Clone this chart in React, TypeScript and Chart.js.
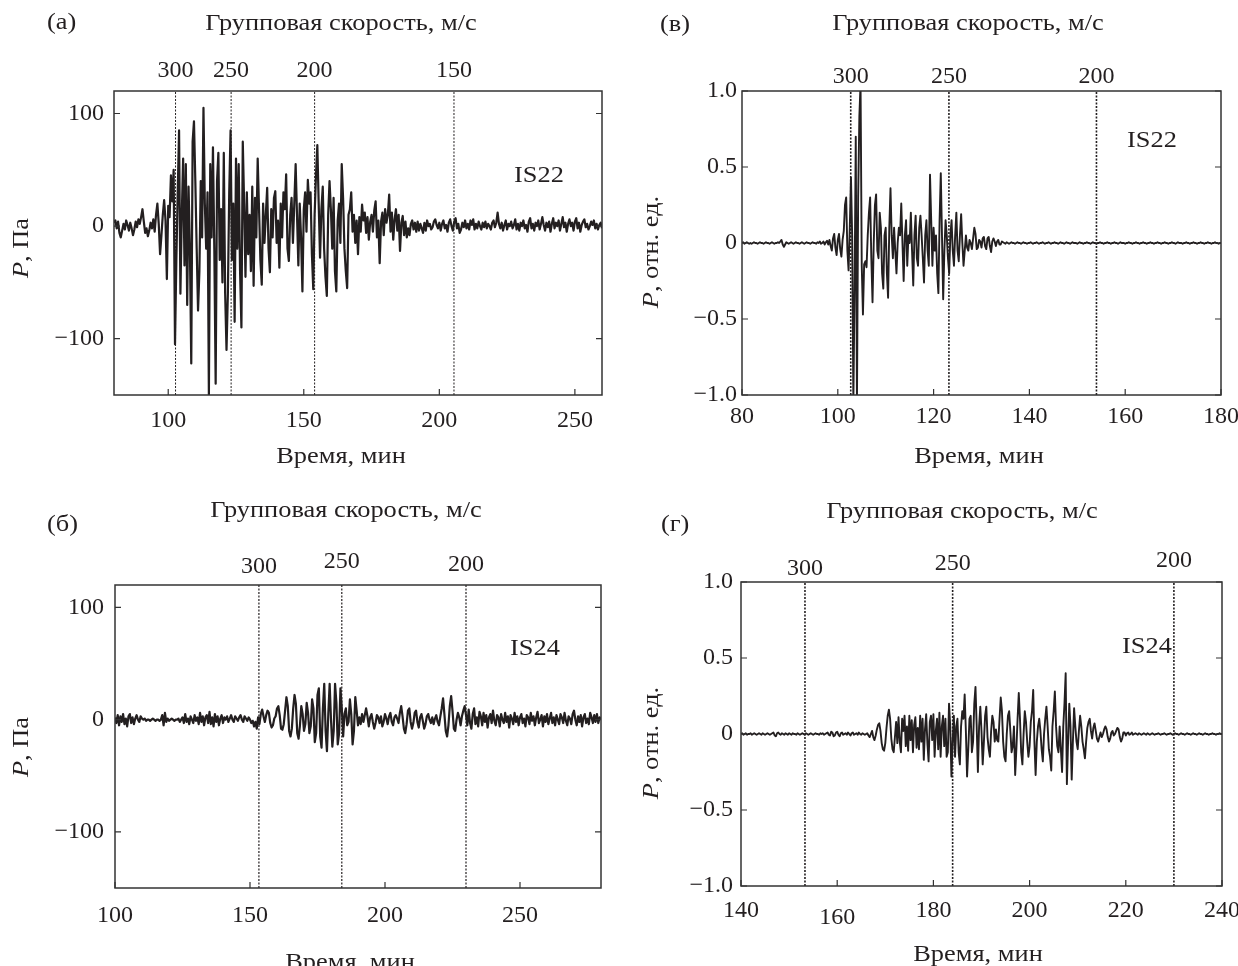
import React, { useEffect, useRef } from "react";
import { Chart, registerables } from "chart.js";

Chart.register(...registerables);

const SERIF = '"Liberation Serif", "Times New Roman", serif';
const INK = "#231f20";
const FRAME = "#333333";
const TEXT_SIZE = 24;
const TEXT_STRETCH = 1.1;

// IS22, pressure (Pa), one sample every 0.5 min starting at 80 min
const is22PressureStart = 80;
const is22PressureStep = 0.5;
const is22Pressure = [
  3, 5, -2, 4, -6, -10, -4, 2, -3, 5,
  1, -4, 3, -2, -8, -3, 4, -1, 6, 2,
  8, 15, 4, -6, -2, -9, -4, 3, -2, 6,
  -5, 10, 20, 2, -25, -8, 10, 23, 5, -47,
  18, 8, 45, 22, 50, -105, -30, 30, 85, -60,
  10, 60, -35, 55, -70, 35, -20, -122, 75, 93,
  40, -20, -75, -40, 40, -10, 105, 20, -20, 30,
  -150, 55, -10, 70, -20, -140, 40, 65, -30, 15,
  -50, 65, -60, -110, -60, 30, 85, -30, 20, -85,
  60, -20, 55, -40, -90, 75, 20, -45, 30, -25,
  10, -40, 35, -53, 25, -10, 60, 15, -30, -52,
  20, -15, 10, 34, -20, -41, 15, -10, 25, 31,
  -15, 5, -37, 20, -10, 30, 15, 46, -20, -31,
  10, 25, -15, 20, 55, 10, -35, 20, -10, -58,
  15, 30, -5, 41, 20, 30, -25, -56, 10, 45,
  72, 20, -28, 15, 35, -20, -45, -62, 10, 40,
  15, -20, 25, -40, -58, 5, 20, -15, 55, 25,
  -20, -40, -55, 10, 15, 30, -5, 10, -15, 5,
  -25, 8, -5, 19, 5, 12, -6, 8, -12, 4,
  10, -5, 14, 22, -10, 5, -33, 4, 12, -8,
  15, 3, 10, 28, -5, 12, -12, 6, 15, -4,
  10, -22, 3, 9, -8, 4, -10, -2, -8, 2,
  5, -3, 3, -5, 4, -4, 2, -2, -6, 3,
  -4, 5, 0, 2, -3, -1, 4, 6, 1, -2,
  3, -4, 2, 5, -2, 1, -5, 3, 6, 0,
  -4, 4, 7, -2, 2, -6, -3, 3, -1, 5,
  -2, 2, -3, 5, 1, 6, -3, 2, -2, 4,
  0, -3, 3, -1, 4, -2, 2, 0, -3, 3,
  5, -1, 3, 12, 2, -2, 3, -4, 1, 5,
  -3, 2, 0, 4, -2, 1, 6, -3, 2, -4,
  3, 0, 5, -2, 1, -5, 4, 7, -2, 2,
  -4, 3, 0, 5, -3, 2, 8, 1, -4, 3,
  -1, 4, -5, 2, 7, -2, 3, 0, 5, -4,
  2, 8, -1, 3, -5, 2, 6, 0, 3, -4,
  4, 7, -2, 3, -5, 1, 4, 6, -1, 2,
  -3, 0, 4, 1, 5, -2, 2, -3, 1, 3,
  -2,
];

// IS22, normalised pressure, one sample every 0.25 min starting at 80 min
const is22NormStart = 80;
const is22NormStep = 0.25;
const is22Normalized = [
  0, 0.005, -0.005, 0, 0.005, 0, -0.005, 0,
  -0.005, 0, 0.005, 0, 0, -0.005, 0, 0.005,
  0, 0, -0.005, 0, 0.005, 0, 0, -0.005,
  0, 0.005, 0, -0.005, 0, 0, 0.005, 0,
  0.01, 0.02, -0.01, -0.025, -0.01, 0.005, 0, -0.005,
  0, 0.005, 0, -0.005, 0, 0.005, 0, 0,
  -0.005, 0, 0.005, 0, -0.005, 0, 0.005, 0,
  0, -0.005, 0, 0.005, 0, 0, -0.005, 0.005,
  0, 0.01, -0.005, 0, 0.01, -0.01, 0.005, 0.015,
  -0.01, 0.02, -0.02, -0.05, 0.03, 0.06, -0.03, -0.08,
  0.02, 0.06, -0.04, -0.09, 0.02, 0.08, 0.25, 0.3,
  -0.05, -0.18, 0.1, 0.43, 0.05, -1.05, -0.3, 0.7,
  -1.05, 0.3, 0.83, 1.05, -0.15, -0.47, -0.14, -0.12,
  -0.16, 0.05, 0.2, 0.3, -0.1, -0.39, 0, 0.25,
  0.32, -0.05, -0.1, 0.2, 0.1, -0.2, -0.3, 0.05,
  0.1, -0.2, -0.36, 0.1, 0.36, 0.05, -0.1, 0.1,
  -0.05, -0.2, 0, 0.1, 0.05, 0.26, 0, -0.25,
  0.05, 0.15, -0.15, 0.05, 0, 0.2, -0.05, -0.28,
  0.05, 0.18, -0.1, -0.15, 0.1, 0.18, 0.05, -0.1,
  -0.26, 0.05, 0.15, -0.05, -0.15, 0.45, 0.15, -0.15,
  0.1, -0.05, 0.05, -0.2, -0.33, 0.15, 0.46, 0.05,
  -0.37, -0.05, 0.15, 0.05, -0.1, -0.2, 0.05, 0.15,
  -0.05, -0.15, 0.05, 0.2, -0.05, -0.12, 0.05, 0.19,
  0, -0.15, -0.05, 0.05, -0.03, -0.05, 0.02, 0,
  -0.04, 0.03, 0.1, 0.06, -0.04, -0.03, 0.02, 0.01,
  -0.03, 0.03, 0.04, -0.02, -0.04, 0.03, 0.04, -0.02,
  -0.06, 0.01, 0.03, 0.01, -0.02, 0.01, 0.02, -0.01,
  -0.01, 0.01, 0.005, 0, -0.005, 0.005, 0, -0.005,
  0, 0.005, 0, 0, -0.005, 0, 0.005, 0,
  0, -0.005, 0, 0.005, 0, 0, -0.005, 0,
  0, 0.005, 0, -0.005, 0, 0, 0.005, 0,
  -0.005, 0, 0, 0.005, 0, -0.005, 0, 0,
  0.005, 0, -0.005, 0, 0, 0.005, 0, 0,
  -0.005, 0, 0.005, 0, 0, -0.005, 0, 0.005,
  0, 0, -0.005, 0, 0.005, 0, 0, 0,
  -0.005, 0, 0.005, 0, 0, -0.005, 0, 0,
  0.005, 0, 0, -0.005, 0, 0.005, 0, 0,
  -0.005, 0, 0, 0.005, 0, 0, -0.005, 0,
  0, 0.005, 0, 0, -0.005, 0, 0, 0.005,
  0, 0, -0.005, 0, 0.005, 0, 0, 0,
  -0.005, 0, 0, 0.005, 0, 0, -0.005, 0,
  0, 0.005, 0, 0, -0.005, 0, 0, 0.005,
  0, 0, -0.005, 0, 0, 0.005, 0, 0,
  -0.005, 0, 0, 0.005, 0, 0, -0.005, 0,
  0, 0.005, 0, 0, -0.005, 0, 0, 0.005,
  0, 0, -0.005, 0, 0.005, 0, 0, 0,
  -0.005, 0, 0, 0.005, 0, 0, -0.005, 0,
  0, 0.005, 0, 0, -0.005, 0, 0, 0.005,
  0, 0, -0.005, 0, 0, 0.005, 0, 0,
  -0.005, 0, 0, 0.005, 0, 0, -0.005, 0,
  0,
];

// IS24, pressure (Pa), one sample every 0.5 min starting at 100 min
const is24PressureStart = 100;
const is24PressureStep = 0.5;
const is24Pressure = [
  2, -3, 4, -5, 3, -2, 5, -4, 1, -6,
  3, 5, -3, 2, -4, 1, 4, 0, -2, 3,
  1, 0, 1, -1, 0, 0, -1, 0, 1, 0,
  -1, 0, 0, -1, 0, 4, -5, 6, -2, 1,
  -1, 0, 1, 0, -1, 0, 0, 1, -2, 0,
  2, -3, 5, -2, 1, -4, 3, 0, -3, 4,
  -1, 2, -4, 6, -2, 3, -5, 2, 4, -3,
  7, -4, 2, -6, 5, -2, 3, -5, 1, 4,
  -3, 2, 0, 3, -2, 1, 4, 0, -2, 3,
  1, -1, 2, 4, 0, -2, 3, 1, -1, 2,
  0, -3, -1, -6, -2, -8, 2, -4, 5, 9,
  3, -2, 4, 8, 6, -3, -7, -5, 1, 3,
  10, 12, 4, -8, -9, -4, 8, 20, 12, -10,
  -15, -8, 10, 22, 14, -12, -17, -5, 12, 5,
  -10, -4, 15, 6, -12, -6, 18, 10, -20, -12,
  22, 28, -15, -25, 10, 32, -10, -28, 5, 32,
  0, -24, -10, 32, 15, -22, -12, 28, 10, -15,
  5, 10, -5, -2, 18, 5, -22, -10, 20, 8,
  -5, 2, -4, 5, -2, 4, 10, 3, -6, 2,
  5, -2, -8, -3, 4, 2, -3, 3, -6, -2,
  5, 1, -4, 3, 6, -2, -5, 2, 4, 1,
  -3, 6, 12, 3, -8, -12, -4, 8, 10, -2,
  -8, -3, 6, 8, -2, -7, 2, 5, -1, -8,
  -4, 3, 5, 0, -3, 2, -4, 1, 4, -2,
  -5, 3, 10, 19, 5, -10, -15, -5, 12, 21,
  8, -8, -10, 0, 6, 2, -5, 3, 8, 12,
  4, -5, 9, -3, -8, 5, 10, -4, 2, -6,
  7, 3, -5, 6, -2, 4, -7, 2, 5, -3,
  8, -1, -5, 4, 2, -6, 5, 0, -3, 6,
  -2, 3, -7, 4, 1, -4, 6, -2, 3, -5,
  2, 5, -3, 1, -6, 4, 2, -4, 6, -1,
  3, -5, 2, 7, -3, 0, 4, -6, 3, -2,
  5, -4, 1, 6, -3, 2, -5, 4, 0, -4,
  5, 2, -3, 6, -1, -5, 3, 1, -4, 5,
  8, 0, -5, 3, -2, 4, -6, 2, 5, -3,
  1, -4, 6, 2, -3, 4, -2, 5, -3, 2,
  0,
];

// IS24, normalised pressure, one sample every 0.25 min starting at 140 min
const is24NormStart = 140;
const is24NormStep = 0.25;
const is24Normalized = [
  0, 0.005, -0.005, 0, 0.005, -0.005, 0, 0,
  0.005, -0.005, 0, 0.005, 0, -0.005, 0, 0.005,
  0, -0.005, 0.005, 0, -0.005, 0, 0.005, 0,
  -0.005, 0, 0.005, 0.01, -0.01, -0.015, 0.005, 0.01,
  0, -0.005, 0.005, 0, -0.005, 0.005, 0, -0.005,
  0.005, 0, -0.005, 0.005, 0, 0, -0.005, 0.005,
  0, -0.005, 0, 0.005, 0, -0.005, 0.005, 0,
  -0.005, 0, 0.005, 0, -0.005, 0, 0.005, 0,
  0, -0.005, 0.005, 0, 0.005, -0.005, 0, 0.005,
  0.01, -0.005, -0.01, 0.015, 0.01, -0.015, -0.01, 0.01,
  0.015, -0.005, -0.015, 0.005, 0.01, -0.005, 0, 0.005,
  -0.005, 0.01, 0, -0.01, 0.005, 0.01, -0.005, 0,
  0.005, -0.005, 0.01, 0, -0.005, 0.005, 0, -0.005,
  0, 0.005, -0.01, -0.02, 0, 0.02, -0.02, -0.04,
  -0.01, 0.03, 0.06, 0.07, 0.02, -0.06, -0.1, -0.11,
  -0.06, 0.04, 0.12, 0.16, 0.1, -0.03, -0.1, -0.12,
  -0.02, 0.08, -0.06, 0.11, -0.05, -0.12, 0.1, 0.02,
  0.12, -0.08, 0.05, -0.11, 0.12, -0.04, 0.09, -0.12,
  0.06, 0.11, -0.09, 0.04, -0.1, 0.12, -0.05, 0.1,
  -0.17, 0.03, 0.13, -0.06, -0.18, 0.08, 0.12, -0.04,
  0.13, -0.15, 0.02, 0.1, -0.1, 0.14, -0.15, 0.05,
  0.12, -0.08, 0.1, -0.15, -0.12, 0.2, 0.05, -0.28,
  -0.05, 0.12, -0.15, 0.05, 0.1, -0.12, -0.2, 0.05,
  0.15, 0.1, 0.26, 0.02, -0.28, -0.1, 0.1, 0.12,
  -0.12, -0.05, 0.2, 0.31, 0.05, -0.25, 0.05, 0.18,
  0.02, -0.2, -0.05, 0.12, 0.18, -0.02, -0.1, -0.15,
  0.02, 0.12, 0.08, -0.05, 0.03, -0.04, -0.05, 0.1,
  0.24, 0.15, -0.05, -0.15, -0.18, 0, 0.12, 0.15,
  0.02, -0.12, -0.08, 0.05, -0.27, -0.1, 0.1, 0.27,
  0.1, -0.12, -0.2, 0, 0.15, 0.08, -0.05, -0.15,
  -0.08, 0.08, 0.15, 0.29, -0.05, -0.27, -0.05, 0.05,
  0.1, 0.02, -0.1, -0.18, 0, 0.1, 0.18, 0.05,
  -0.1, -0.15, -0.24, 0.05, 0.15, 0.28, 0.05, -0.08,
  -0.12, 0.05, -0.1, -0.25, 0.05, 0.2, 0.4, -0.33,
  -0.05, 0.2, 0.05, -0.3, -0.05, 0.17, 0.05, -0.05,
  -0.1, 0.02, 0.12, 0.05, -0.05, -0.1, -0.16, -0.05,
  0.04, 0.08, 0.1, 0.02, -0.03, 0.04, 0.07, 0.02,
  -0.03, -0.05, -0.02, 0.01, -0.02, 0, 0.03, 0.05,
  0.03, -0.02, -0.05, -0.03, 0.01, 0.02, -0.01, 0,
  0.02, 0.04, 0.03, -0.02, -0.05, -0.03, 0.01, 0.01,
  -0.01, 0.005, 0.01, -0.005, 0, 0.01, -0.005, 0,
  0.005, 0, -0.005, 0.005, 0, -0.005, 0, 0.005,
  0, -0.005, 0.005, 0, -0.005, 0, 0.005, 0,
  -0.005, 0, 0, 0.005, 0, -0.005, 0, 0,
  0.005, 0, -0.005, 0, 0, 0.005, 0, -0.005,
  0, 0.005, 0, 0, -0.005, 0, 0.005, 0,
  0, -0.005, 0, 0.005, 0, 0, -0.005, 0,
  0.005, 0, 0, -0.005, 0, 0.005, 0, 0,
  -0.005, 0, 0.005, 0, 0, -0.005, 0, 0,
  0.005, 0, 0, -0.005, 0, 0, 0.005, 0,
  0,
];

// Arrival times (min) for the marked group velocities (m/s)
const is22VelocityTimes = [102.7, 123.2, 154.0, 205.4];
const is22VelocityLabels = ["300", "250", "200", "150"];
const is24VelocityTimes = [153.3, 184.0, 230.0];
const is24VelocityLabels = ["300", "250", "200"];

// Axis ticks
const pressureTicks = [-100, 0, 100];
const normalizedTicks = [-1, -0.5, 0, 0.5, 1];
const is22PressureTimeTicks = [100, 150, 200, 250];
const is22NormTimeTicks = [80, 100, 120, 140, 160, 180];
const is24PressureTimeTicks = [100, 150, 200, 250];
const is24NormTimeTicks = [140, 160, 180, 200, 220, 240];

const TIME_TITLE = "Время, мин";
const VELOCITY_TITLE = "Групповая скорость, м/с";

const minus = (s: string) => s.replace("-", "\u2212");
const fmtPressure = (v: number) => (v === 0 ? "0" : minus(String(v)));
const fmtNormalized = (v: number) => (v === 0 ? "0" : minus(v.toFixed(1)));

type Pt = [number, number];
type Layout = {
  left: number;
  top: number;
  width: number;
  height: number;
  area: { l: number; r: number; t: number; b: number };
  pad: { bottom: number; top: number; left: number };
  // small per-label vertical shifts of the top / bottom tick labels
  nudgeTop: number[];
  nudgeBottom: number[];
  letter: Pt;
  title: Pt;
  xTitle: Pt;
  yTitle: Pt;
  station: Pt;
  markerWidth: number;
  lineWidth: number;
};

type Panel = {
  letter: string;
  station: string;
  unit: string;
  start: number;
  step: number;
  values: number[];
  xMin: number;
  xMax: number;
  yMin: number;
  yMax: number;
  xTicks: number[];
  yTicks: number[];
  fmtY: (v: number) => string;
  velTimes: number[];
  velLabels: string[];
  layout: Layout;
};

const panels: Panel[] = [
  {
    letter: "(а)",
    station: "IS22",
    unit: ", Па",
    start: is22PressureStart,
    step: is22PressureStep,
    values: is22Pressure,
    xMin: 80,
    xMax: 260,
    yMin: -150,
    yMax: 120,
    xTicks: is22PressureTimeTicks,
    yTicks: pressureTicks,
    fmtY: fmtPressure,
    velTimes: is22VelocityTimes,
    velLabels: is22VelocityLabels,
    layout: {
      left: 0, top: 0, width: 619, height: 483,
      area: { l: 114, r: 602, t: 91, b: 395 },
      pad: { bottom: 11, top: 5.5, left: 10 },
      nudgeTop: [], nudgeBottom: [],
      letter: [47, 29], title: [341, 30], xTitle: [341, 463], yTitle: [28, 248], station: [514, 182],
      markerWidth: 1, lineWidth: 2.2,
    },
  },
  {
    letter: "(в)",
    station: "IS22",
    unit: ", отн. ед.",
    start: is22NormStart,
    step: is22NormStep,
    values: is22Normalized,
    xMin: 80,
    xMax: 180,
    yMin: -1,
    yMax: 1,
    xTicks: is22NormTimeTicks,
    yTicks: normalizedTicks,
    fmtY: fmtNormalized,
    velTimes: is22VelocityTimes,
    velLabels: is22VelocityLabels,
    layout: {
      left: 619, top: 0, width: 619, height: 483,
      area: { l: 123, r: 602, t: 91, b: 395 },
      pad: { bottom: 7, top: 0, left: 5 },
      nudgeTop: [], nudgeBottom: [],
      letter: [41, 31], title: [349, 30], xTitle: [360, 463], yTitle: [39, 252], station: [508, 147],
      markerWidth: 1.6, lineWidth: 1.9,
    },
  },
  {
    letter: "(б)",
    station: "IS24",
    unit: ", Па",
    start: is24PressureStart,
    step: is24PressureStep,
    values: is24Pressure,
    xMin: 100,
    xMax: 280,
    yMin: -150,
    yMax: 120,
    xTicks: is24PressureTimeTicks,
    yTicks: pressureTicks,
    fmtY: fmtPressure,
    velTimes: is24VelocityTimes,
    velLabels: is24VelocityLabels,
    layout: {
      left: 0, top: 483, width: 619, height: 500,
      area: { l: 115, r: 601, t: 102, b: 405 },
      pad: { bottom: 13, top: 4, left: 11 },
      nudgeTop: [0, -5, -2], nudgeBottom: [],
      letter: [47, 48], title: [346, 34], xTitle: [350, 486], yTitle: [28, 264], station: [510, 172],
      markerWidth: 1.2, lineWidth: 2.2,
    },
  },
  {
    letter: "(г)",
    station: "IS24",
    unit: ", отн. ед.",
    start: is24NormStart,
    step: is24NormStep,
    values: is24Normalized,
    xMin: 140,
    xMax: 240,
    yMin: -1,
    yMax: 1,
    xTicks: is24NormTimeTicks,
    yTicks: normalizedTicks,
    fmtY: fmtNormalized,
    velTimes: is24VelocityTimes,
    velLabels: is24VelocityLabels,
    layout: {
      left: 619, top: 483, width: 619, height: 500,
      area: { l: 122, r: 603, t: 99, b: 403 },
      pad: { bottom: 10, top: -1, left: 8 },
      nudgeTop: [0, -5, -8], nudgeBottom: [0, 7, 0, 0, 0, 0],
      letter: [42, 48], title: [343, 35], xTitle: [359, 478], yTitle: [39, 260], station: [503, 170],
      markerWidth: 1.6, lineWidth: 1.9,
    },
  },
];

type Run = { text: string; italic?: boolean };

function drawRuns(
  ctx: CanvasRenderingContext2D,
  runs: Run[],
  x: number,
  y: number,
  align: "left" | "center",
  rotate = false
) {
  ctx.save();
  ctx.translate(x, y);
  if (rotate) ctx.rotate(-Math.PI / 2);
  ctx.scale(TEXT_STRETCH, 1);
  ctx.fillStyle = INK;
  ctx.textAlign = "left";
  ctx.textBaseline = "alphabetic";
  const fontOf = (r: Run) => `${r.italic ? "italic " : ""}${TEXT_SIZE}px ${SERIF}`;
  let total = 0;
  for (const r of runs) {
    ctx.font = fontOf(r);
    total += ctx.measureText(r.text).width;
  }
  let cx = align === "center" ? -total / 2 : 0;
  for (const r of runs) {
    ctx.font = fontOf(r);
    ctx.fillText(r.text, cx, 0);
    cx += ctx.measureText(r.text).width;
  }
  ctx.restore();
}

function nudgeLabels(scale: any, chartArea: any, shifts: number[]) {
  if (!scale || !shifts.length || typeof scale.getLabelItems !== "function") return;
  const items = scale.getLabelItems(chartArea);
  if (!Array.isArray(items)) return;
  items.forEach((it: any, i: number) => {
    const dy = shifts[i] || 0;
    if (dy && it && it.options && Array.isArray(it.options.translation)) {
      it.options.translation[1] += dy;
    }
  });
}

function PanelChart({ panel }: { panel: Panel }) {
  const ref = useRef<HTMLCanvasElement | null>(null);

  useEffect(() => {
    const canvas = ref.current;
    if (!canvas) return;
    const L = panel.layout;
    const tickFont = { family: SERIF, size: 24, lineHeight: 1.2 };

    const signal = panel.values.map((v, i) => ({ x: panel.start + i * panel.step, y: v }));
    const markers = panel.velTimes.map((t) => ({
      data: [
        { x: t, y: panel.yMin },
        { x: t, y: panel.yMax },
      ],
      borderColor: INK,
      borderWidth: L.markerWidth,
      borderDash: [2, 1.5],
      pointRadius: 0,
      tension: 0,
      fill: false,
      xAxisID: "x",
      yAxisID: "y",
    }));

    const labelShiftPlugin = {
      id: "labelShift",
      beforeDraw(chart: any) {
        nudgeLabels(chart.scales.xTop, chart.chartArea, L.nudgeTop);
        nudgeLabels(chart.scales.x, chart.chartArea, L.nudgeBottom);
      },
    };

    const framePlugin = {
      id: "frameAndTicks",
      afterDatasetsDraw(chart: any) {
        const { ctx, chartArea: a, scales } = chart;
        ctx.save();
        ctx.strokeStyle = FRAME;
        ctx.lineWidth = 1.5;
        ctx.strokeRect(a.left, a.top, a.right - a.left, a.bottom - a.top);
        ctx.lineWidth = 1.2;
        ctx.beginPath();
        for (const v of panel.xTicks) {
          const px = scales.x.getPixelForValue(v);
          ctx.moveTo(px, a.bottom);
          ctx.lineTo(px, a.bottom - 6);
        }
        for (const v of panel.yTicks) {
          const py = scales.y.getPixelForValue(v);
          ctx.moveTo(a.left, py);
          ctx.lineTo(a.left + 6, py);
          ctx.moveTo(a.right, py);
          ctx.lineTo(a.right - 6, py);
        }
        ctx.stroke();
        ctx.restore();
      },
    };

    const textPlugin = {
      id: "panelText",
      afterDraw(chart: any) {
        const ctx = chart.ctx as CanvasRenderingContext2D;
        drawRuns(ctx, [{ text: panel.letter }], L.letter[0], L.letter[1], "left");
        drawRuns(ctx, [{ text: VELOCITY_TITLE }], L.title[0], L.title[1], "center");
        drawRuns(ctx, [{ text: TIME_TITLE }], L.xTitle[0], L.xTitle[1], "center");
        drawRuns(
          ctx,
          [{ text: "P", italic: true }, { text: panel.unit }],
          L.yTitle[0],
          L.yTitle[1],
          "center",
          true
        );
        drawRuns(ctx, [{ text: panel.station }], L.station[0], L.station[1], "left");
      },
    };

    const chart = new Chart(canvas, {
      type: "line",
      data: {
        datasets: [
          {
            data: signal,
            borderColor: INK,
            borderWidth: L.lineWidth,
            borderJoinStyle: "round",
            pointRadius: 0,
            tension: 0,
            fill: false,
            xAxisID: "x",
            yAxisID: "y",
          },
          ...markers,
        ],
      } as any,
      options: {
        responsive: false,
        maintainAspectRatio: false,
        animation: false,
        devicePixelRatio: 1,
        events: [],
        layout: { padding: { left: 0, top: 0, right: L.width - L.area.r, bottom: 0 } },
        plugins: { legend: { display: false }, tooltip: { enabled: false }, title: { display: false } },
        scales: {
          x: {
            type: "linear",
            position: "bottom",
            min: panel.xMin,
            max: panel.xMax,
            bounds: "data",
            afterBuildTicks: (s: any) => {
              s.ticks = panel.xTicks.map((v) => ({ value: v }));
            },
            afterFit: (s: any) => {
              s.height = L.height - L.area.b;
              s.paddingLeft = 0;
              s.paddingRight = 0;
            },
            ticks: {
              font: tickFont,
              color: INK,
              padding: L.pad.bottom,
              maxRotation: 0,
              minRotation: 0,
              autoSkip: false,
              callback: (v: any) => String(v),
            },
            grid: { display: false, drawTicks: false },
            border: { display: false },
          },
          xTop: {
            type: "linear",
            axis: "x",
            position: "top",
            min: panel.xMin,
            max: panel.xMax,
            bounds: "data",
            afterBuildTicks: (s: any) => {
              s.ticks = panel.velTimes.map((v) => ({ value: v }));
            },
            afterFit: (s: any) => {
              s.height = L.area.t;
              s.paddingLeft = 0;
              s.paddingRight = 0;
            },
            ticks: {
              font: tickFont,
              color: INK,
              padding: L.pad.top,
              maxRotation: 0,
              minRotation: 0,
              autoSkip: false,
              callback: (_v: any, i: number) => panel.velLabels[i],
            },
            grid: { display: false, drawTicks: false },
            border: { display: false },
          },
          y: {
            type: "linear",
            position: "left",
            min: panel.yMin,
            max: panel.yMax,
            bounds: "data",
            afterBuildTicks: (s: any) => {
              s.ticks = panel.yTicks.map((v) => ({ value: v }));
            },
            afterFit: (s: any) => {
              s.width = L.area.l;
              s.paddingTop = 0;
              s.paddingBottom = 0;
            },
            ticks: {
              font: tickFont,
              color: INK,
              padding: L.pad.left,
              autoSkip: false,
              callback: (v: any) => panel.fmtY(Number(v)),
            },
            grid: { display: false, drawTicks: false },
            border: { display: false },
          },
        },
      } as any,
      plugins: [labelShiftPlugin, framePlugin, textPlugin],
    });

    return () => chart.destroy();
  }, [panel]);

  const L = panel.layout;
  return (
    <canvas
      ref={ref}
      width={L.width}
      height={L.height}
      style={{
        position: "absolute",
        left: L.left,
        top: L.top,
        width: L.width,
        height: L.height,
        display: "block",
      }}
    />
  );
}

export default function App() {
  return (
    <div
      style={{
        position: "absolute",
        left: 0,
        top: 0,
        width: 1238,
        height: 966,
        overflow: "hidden",
        background: "#ffffff",
      }}
    >
      {panels.map((p) => (
        <PanelChart key={p.letter} panel={p} />
      ))}
    </div>
  );
}
